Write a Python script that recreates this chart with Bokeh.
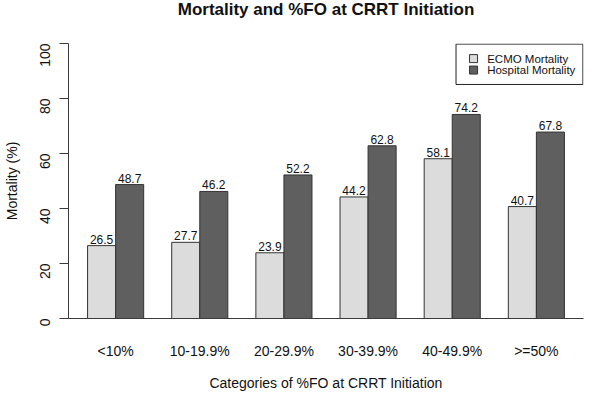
import math
import numpy as np
from bokeh.plotting import figure
from bokeh.models import Range1d, FixedTicker, Title
from bokeh.core.properties import value
from bokeh.embed import file_html
from bokeh.resources import INLINE

# ---- data ----
categories = ["<10%", "10-19.9%", "20-29.9%", "30-39.9%", "40-49.9%", ">=50%"]
ecmo_mortality = [26.5, 27.7, 23.9, 44.2, 58.1, 40.7]
hospital_mortality = [48.7, 46.2, 52.2, 62.8, 74.2, 67.8]
y_ticks = [0, 20, 40, 60, 80, 100]
series_names = ["ECMO Mortality", "Hospital Mortality"]
series_colors = ["#DCDCDC", "#5F5F5F"]
title_text = "Mortality and %FO at CRRT Initiation"
x_title = "Categories of %FO at CRRT Initiation"
y_title = "Mortality (%)"

# ---- layout ----
FONT = "Liberation Sans"
W, H = 584, 393
SX, SY = W / 600.0, H / 409.0
BL, BR, BT, BB = 68, 1, 43, 71
FW, FH = W - BL - BR, H - BT - BB

n = len(categories)
idx = np.arange(n)
group_left = 1 + 3 * idx          # R barplot beside=TRUE, space=c(0,1)
x_ecmo = group_left + 0.5
x_hosp = group_left + 1.5
x_center = group_left + 1.0
lo, hi = 1.0, 3.0 * n
ext = 0.04 * (hi - lo)
XMIN, XMAX = lo - ext, hi + ext
YMIN, YMAX = 0.0, 100.0


def dx(cx):
    return XMIN + (cx - BL) / FW * (XMAX - XMIN)


def dy(cy):
    return YMAX - (cy - BT) / FH * (YMAX - YMIN)


p = figure(width=W, height=H, x_range=Range1d(XMIN, XMAX), y_range=Range1d(YMIN, YMAX),
           output_backend="svg", toolbar_location=None, title=None,
           min_border_left=BL, min_border_right=BR, min_border_top=BT, min_border_bottom=BB)
p.grid.visible = False
p.outline_line_color = None
p.background_fill_color = "white"
p.border_fill_color = "white"

AX = "#3a3a3a"
TXT = "#111111"

# blank spacer between title and frame (added first -> closest to the frame)
p.add_layout(Title(text=" ", text_font=FONT, text_font_size="17px", text_color="white",
                   standoff=2), "above")
# main title
p.add_layout(Title(text=title_text, align="center", vertical_align="top", text_font=FONT,
                   text_font_size="17px", text_font_style="bold", text_color=TXT,
                   standoff=-1), "above")

# y axis
ya = p.yaxis[0]
ya.ticker = FixedTicker(ticks=y_ticks)
ya.major_tick_out = 9
ya.major_tick_in = 0
ya.minor_tick_line_color = None
ya.axis_line_color = AX
ya.major_tick_line_color = AX
ya.major_label_orientation = math.pi / 2
ya.major_label_text_font = FONT
ya.major_label_text_font_size = "14px"
ya.major_label_text_color = TXT
ya.major_label_standoff = 15
ya.axis_label = y_title
ya.axis_label_text_font = FONT
ya.axis_label_text_font_size = "14px"
ya.axis_label_text_font_style = "normal"
ya.axis_label_text_color = TXT
ya.axis_label_standoff = 12

# x axis
xa = p.xaxis[0]
xa.ticker = FixedTicker(ticks=[int(v) for v in x_center])
xa.major_label_overrides = {int(v): c for v, c in zip(x_center, categories)}
xa.major_tick_out = 0
xa.major_tick_in = 0
xa.major_tick_line_color = None
xa.minor_tick_line_color = None
xa.axis_line_color = AX
xa.major_label_text_font = FONT
xa.major_label_text_font_size = "14px"
xa.major_label_text_color = TXT
xa.major_label_standoff = 24
xa.axis_label = x_title
xa.axis_label_text_font = FONT
xa.axis_label_text_font_size = "14px"
xa.axis_label_text_font_style = "normal"
xa.axis_label_text_color = TXT
xa.axis_label_standoff = 13

# bars
p.vbar(x=x_ecmo, top=ecmo_mortality, bottom=0, width=1.0,
       fill_color=series_colors[0], line_color="#333333", line_width=1)
p.vbar(x=x_hosp, top=hospital_mortality, bottom=0, width=1.0,
       fill_color=series_colors[1], line_color="#333333", line_width=1)

# value labels
for xs, vals in ((x_ecmo, ecmo_mortality), (x_hosp, hospital_mortality)):
    p.text(x=xs, y=vals, text=[f"{v:.1f}" for v in vals], text_align="center",
           text_baseline="bottom", y_offset=-2, text_font=value(FONT),
           text_font_size="12px", text_color=TXT)

# legend (drawn in R style)
p.quad(left=dx(468 * SX), right=dx(582.4), top=dy(43.6), bottom=dy(88 * SY),
       fill_color="white", line_color="#222222", line_width=1)
leg_y = [dy(60.7 * SY), dy(72.8 * SY)]
p.rect(x=[dx(486 * SX)] * 2, y=leg_y, width=8, height=8, width_units="screen",
       height_units="screen", fill_color=series_colors, line_color="#333333", line_width=1)
p.text(x=[dx(500 * SX)] * 2, y=leg_y, text=series_names, text_align="left",
       text_baseline="middle", text_font=value(FONT), text_font_size="11.5px",
       text_color=TXT)

open("out.html", "w").write(file_html(p, INLINE))
